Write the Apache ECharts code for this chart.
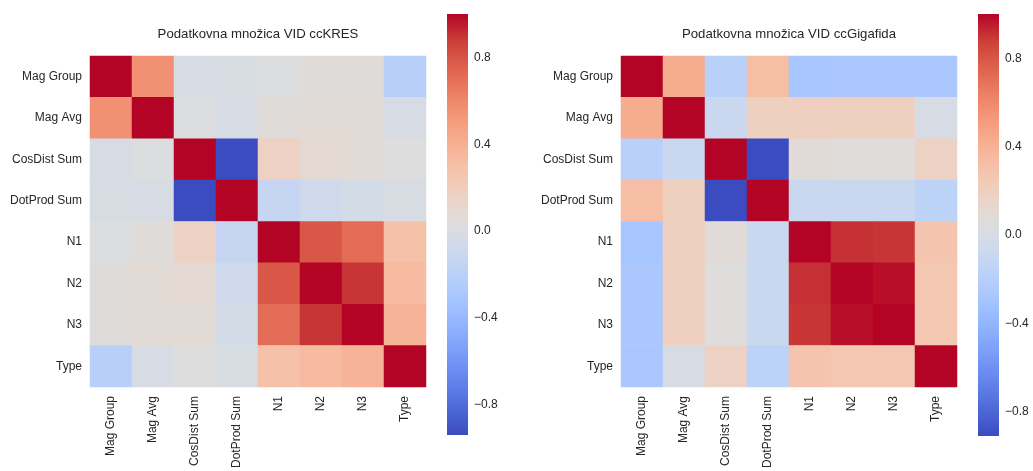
<!DOCTYPE html>
<html><head><meta charset="utf-8">
<script src="https://cdn.jsdelivr.net/npm/echarts@6/dist/echarts.min.js"></script>
<style>html,body{margin:0;padding:0;background:#fff}#c{width:1033px;height:471px}</style>
</head><body><div id="c"></div>
<script>
const labels = ['Mag Group','Mag Avg','CosDist Sum','DotProd Sum','N1','N2','N3','Type'];
const titleKres = 'Podatkovna množica VID ccKRES';
const titleGiga = 'Podatkovna množica VID ccGigafida';
const kres = [
 [ 1.00,  0.56, -0.02, -0.01,  0.02,  0.05,  0.05, -0.22],
 [ 0.56,  1.00,  0.02, -0.02,  0.05,  0.07,  0.07, -0.02],
 [-0.02,  0.02,  1.00, -0.94,  0.16,  0.09,  0.07,  0.03],
 [-0.01, -0.02, -0.94,  1.00, -0.13, -0.08, -0.04, -0.01],
 [ 0.02,  0.05,  0.16, -0.13,  1.00,  0.79,  0.71,  0.29],
 [ 0.05,  0.07,  0.09, -0.08,  0.79,  1.00,  0.90,  0.33],
 [ 0.05,  0.07,  0.07, -0.04,  0.71,  0.90,  1.00,  0.38],
 [-0.22, -0.02,  0.03, -0.01,  0.29,  0.33,  0.38,  1.00]
];
const giga = [
 [ 1.00,  0.43, -0.19,  0.32, -0.29, -0.27, -0.27, -0.27],
 [ 0.43,  1.00, -0.09,  0.19,  0.20,  0.20,  0.20,  0.00],
 [-0.19, -0.09,  1.00, -0.91,  0.08,  0.05,  0.05,  0.18],
 [ 0.32,  0.19, -0.91,  1.00, -0.09, -0.09, -0.09, -0.17],
 [-0.29,  0.20,  0.08, -0.09,  1.00,  0.91,  0.90,  0.28],
 [-0.27,  0.20,  0.05, -0.09,  0.91,  1.00,  0.98,  0.26],
 [-0.27,  0.20,  0.05, -0.09,  0.90,  0.98,  1.00,  0.26],
 [-0.27,  0.00,  0.18, -0.17,  0.28,  0.26,  0.26,  1.00]
];
const cbTicks = [-0.8, -0.4, 0, 0.4, 0.8];
const coolwarm = ['#3b4cc0','#4d68d7','#6282ea','#779af7','#8db0fe','#a3c2ff','#b8d0f9','#ccd9ee','#dddddd','#ecd3c6','#f5c4ad','#f7b194','#f49a7b','#ec7f63','#de604d','#cb3e38','#b40426'];

const FONT = 'Liberation Sans, Arial, sans-serif';
const TXT = '#262626';

function hex2rgb(h){return [parseInt(h.slice(1,3),16),parseInt(h.slice(3,5),16),parseInt(h.slice(5,7),16)];}
function colorAtT(t){
  t = Math.max(0, Math.min(1, t)) * (coolwarm.length - 1);
  const i = Math.min(coolwarm.length - 2, Math.floor(t));
  const f = t - i;
  const a = hex2rgb(coolwarm[i]), b = hex2rgb(coolwarm[i+1]);
  return 'rgb(' + a.map((x,k)=>Math.round(x + (b[k]-x)*f)).join(',') + ')';
}
function toCells(m){const d=[];m.forEach((row,r)=>row.forEach((v,c)=>d.push([c,r,v])));return d;}
function range(m){const f=m.flat();return [Math.min(...f),Math.max(...f)];}
function gradient(){
  const stops=[];const N=64;
  for(let i=0;i<=N;i++){stops.push({offset:i/N,color:colorAtT(1-i/N)});}
  return new echarts.graphic.LinearGradient(0,0,0,1,stops);
}
function fmt(v){const s=v.toFixed(1);return s.replace('-','\u2212');}

const rK = range(kres), rG = range(giga);

function catX(gi){return {type:'category',gridIndex:gi,data:labels,axisLine:{show:false},axisTick:{show:false},splitLine:{show:false},
  axisLabel:{rotate:90,margin:9,color:TXT,fontSize:12,fontFamily:FONT,interval:0}};}
function catY(gi){return {type:'category',gridIndex:gi,data:labels,inverse:true,axisLine:{show:false},axisTick:{show:false},splitLine:{show:false},
  axisLabel:{margin:8,color:TXT,fontSize:12,fontFamily:FONT,interval:0}};}
function cbX(gi){return {type:'value',gridIndex:gi,min:0,max:1,show:false};}
function cbY(gi,r){return {type:'value',gridIndex:gi,min:r[0],max:r[1],position:'right',
  axisLine:{show:false},splitLine:{show:false},
  axisTick:{show:true,length:4,lineStyle:{color:TXT,width:1},customValues:cbTicks},
  axisLabel:{show:true,margin:6,color:TXT,fontSize:12,fontFamily:FONT,customValues:cbTicks,formatter:fmt}};}
function cbSeries(gi,r){return {type:'custom',xAxisIndex:gi,yAxisIndex:gi,silent:true,
  data:[[0.5,r[0],r[1]]],encode:{x:0,y:[1,2]},
  renderItem:(params,api)=>{
    const top=api.coord([0,api.value(2)]);const bot=api.coord([0,api.value(1)]);
    const cs=params.coordSys;
    return {type:'rect',shape:{x:cs.x,y:top[1],width:cs.width,height:bot[1]-top[1]},style:{fill:gradient()}};
  }};}

const chart = echarts.init(document.getElementById('c'));
chart.setOption({
  animation:false,
  backgroundColor:'#ffffff',
  graphic:[
    {type:'text',x:258,y:34,style:{text:titleKres,textAlign:'center',textVerticalAlign:'middle',fontSize:13.2,fontFamily:FONT,fill:TXT}},
    {type:'text',x:789,y:34,style:{text:titleGiga,textAlign:'center',textVerticalAlign:'middle',fontSize:13.2,fontFamily:FONT,fill:TXT}}
  ],
  grid:[
    {left:90,top:56,width:336,height:336},
    {left:621,top:56,width:336,height:336},
    {left:447,top:14,width:21,height:421},
    {left:978,top:14,width:21,height:422}
  ],
  xAxis:[catX(0),catX(1),cbX(2),cbX(3)],
  yAxis:[catY(0),catY(1),cbY(2,rK),cbY(3,rG)],
  visualMap:[
    {type:'continuous',show:false,min:rK[0],max:rK[1],seriesIndex:0,dimension:2,inRange:{color:coolwarm}},
    {type:'continuous',show:false,min:rG[0],max:rG[1],seriesIndex:1,dimension:2,inRange:{color:coolwarm}}
  ],
  series:[
    {type:'heatmap',xAxisIndex:0,yAxisIndex:0,data:toCells(kres),itemStyle:{borderWidth:0},emphasis:{disabled:true}},
    {type:'heatmap',xAxisIndex:1,yAxisIndex:1,data:toCells(giga),itemStyle:{borderWidth:0},emphasis:{disabled:true}},
    cbSeries(2,rK),
    cbSeries(3,rG)
  ]
});
</script>
</body></html>
